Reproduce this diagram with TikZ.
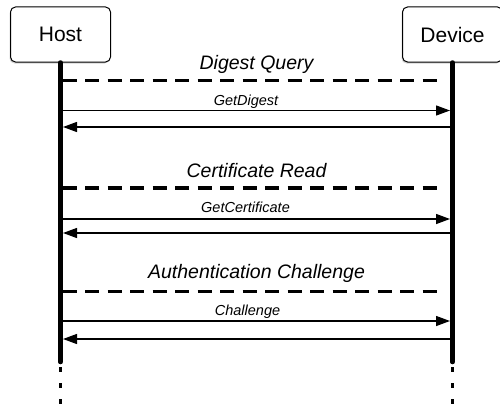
\documentclass[tikz,border=0pt]{standalone}
\usepackage{fontspec}
\setmainfont{Liberation Sans}
\usetikzlibrary{arrows.meta, positioning, shadows}

\begin{document}
\begin{tikzpicture}[x=1pt, y=-1pt]
	\tikzset{actor/.style={draw, line width=1pt, rounded corners=5pt, fill=white, minimum width=100pt, minimum height=55pt, font=\fontsize{21}{25}\selectfont, drop shadow={shadow xshift=-1pt, shadow yshift=-1.5pt, opacity=0.35}},
		life/.style={line width=4.5pt, line cap=round},
		tail/.style={line width=3pt, dash pattern=on 5pt off 11pt},
		phase/.style={line width=3.5pt, dash pattern=on 14pt off 8.5pt, shorten <=2pt, shorten >=10.5pt},
		msg/.style={line width=1.3pt, -{Triangle[length=14pt,width=10pt]}, shorten <=2pt, shorten >=2.5pt},
		big/.style={anchor=base, inner sep=0pt, font=\fontsize{19.5}{23}\selectfont\itshape},
		small/.style={anchor=base, inner sep=0pt, font=\fontsize{14.5}{17}\selectfont\itshape}}

	\useasboundingbox (0,0) rectangle (500,404);

	\node[actor] (host) at (60.5,34.5) {Host};
	\node[actor] (device) at (452.5,34.5) {Device};

	% lifelines
	\coordinate (hostend) at (60.5,362);
	\coordinate (devend) at (452.5,362);
	\coordinate (hostbot) at (60.5,404);
	\coordinate (devbot) at (452.5,404);
	\draw[life] (host.south) -- (hostend);
	\draw[life] (device.south) -- (devend);
	\draw[tail] ([yshift=-5pt]hostend) -- (hostbot);
	\draw[tail] ([yshift=-5pt]devend) -- (devbot);

	% digest query
	\coordinate (h1) at (60.5,80.5);   \coordinate (d1) at (452.5,80.5);
	\coordinate (h2) at (60.5,110.5);  \coordinate (d2) at (452.5,110.5);
	\coordinate (h3) at (60.5,127);    \coordinate (d3) at (452.5,127);
	\draw[phase] (h1) -- (d1);
	\draw[msg] (h2) -- (d2);
	\draw[msg] (d3) -- (h3);
	\node[big] (digest) at (256.5,69) {Digest Query};
	\node[small] (getdigest) at (246,105) {GetDigest};

	% certificate read
	\coordinate (h4) at (60.5,188);    \coordinate (d4) at (452.5,188);
	\coordinate (h5) at (60.5,219);    \coordinate (d5) at (452.5,219);
	\coordinate (h6) at (60.5,233);    \coordinate (d6) at (452.5,233);
	\draw[phase] (h4) -- (d4);
	\draw[msg] (h5) -- (d5);
	\draw[msg] (d6) -- (h6);
	\node[big] (certread) at (256.5,177.5) {Certificate Read};
	\node[small] (getcert) at (245.5,212.5) {GetCertificate};

	% authentication challenge
	\coordinate (h7) at (60.5,291.5);  \coordinate (d7) at (452.5,291.5);
	\coordinate (h8) at (60.5,321);    \coordinate (d8) at (452.5,321);
	\coordinate (h9) at (60.5,339);    \coordinate (d9) at (452.5,339);
	\draw[phase] (h7) -- (d7);
	\draw[msg] (h8) -- (d8);
	\draw[msg] (d9) -- (h9);
	\node[big] (authchal) at (256.5,278) {Authentication Challenge};
	\node[small] (chal) at (247.5,315) {Challenge};
\end{tikzpicture}
\end{document}
